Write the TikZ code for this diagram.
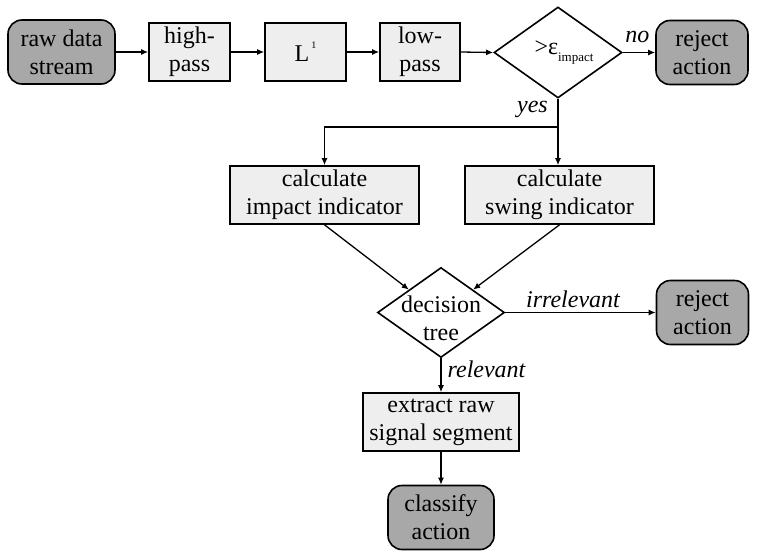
\documentclass[tikz,border=0pt]{standalone}
\usepackage{fontspec}
\newfontfamily\timesfont{Liberation Serif}
\usetikzlibrary{shapes.geometric,arrows.meta}
\definecolor{termgray}{HTML}{A8A8A8}
\definecolor{boxgray}{HTML}{EDEEED}
\begin{document}
\begin{tikzpicture}[x=1pt,y=-1pt,
 every node/.style={font=\timesfont\fontsize{24}{28}\selectfont},
 term/.style={draw, line width=1.6pt, fill=termgray, rounded corners=14pt, minimum height=64pt, align=center, inner sep=0pt},
 proc/.style={draw, line width=1.6pt, fill=boxgray, minimum height=58pt, align=center, inner sep=0pt},
 decide/.style={draw, line width=1.6pt, diamond, inner sep=0pt, fill=white},
 arr/.style={-{Latex[length=7pt,width=6pt]}, line width=1.3pt},
 plain/.style={line width=1.3pt},
 lab/.style={font=\timesfont\fontsize{24}{28}\selectfont\itshape, inner sep=0pt}
]
\useasboundingbox (0,0) rectangle (757,552);
\node[term, minimum width=107pt] (raw) at (61.5,52) {raw data\\stream};
\node[proc, minimum width=81pt] (hp) at (189.5,52) {high-\\pass};
\node[proc, minimum width=81pt] (l1) at (305.5,52) {L\kern2pt\raisebox{13pt}{\fontsize{10}{10}\selectfont 1}};
\node[proc, minimum width=80pt] (lp) at (420,52) {low-\\pass};
\node[decide, minimum width=128pt, minimum height=91pt] (d1) at (558,52.5) {};
\node[inner sep=0pt] (d1t) at (564,53) {\textgreater ε\raisebox{-7pt}{\fontsize{13}{13}\selectfont impact}};
\node[term, minimum width=92pt] (rj1) at (702,52.5) {reject\\action};
\node[proc, minimum width=189pt] (imp) at (324.5,195) {calculate\\impact indicator};
\node[proc, minimum width=189pt] (sw) at (559.5,195) {calculate\\swing indicator};
\node[decide, minimum width=127pt, minimum height=90pt] (d2) at (441,312.5) {};
\node[align=center, inner sep=0pt] (d2t) at (441,318) {decision\\tree};
\node[term, minimum width=92pt] (rj2) at (702.5,312.5) {reject\\action};
\node[proc, minimum width=156pt] (ext) at (441,422) {extract raw\\signal segment};
\node[term, minimum width=106pt] (cls) at (441,517.5) {classify\\action};

\draw[arr] (raw.east) -- (hp.west);
\draw[arr] (hp.east) -- (l1.west);
\draw[arr] (l1.east) -- (lp.west);
\draw[arr] (lp.east) -- (d1.west);
\draw[arr] (d1.east) -- node[lab, above=9pt, pos=0.45] {no} (rj1.west);
\coordinate (yj) at (d1.south |- 0,127);
\draw[plain] (d1.south) -- (yj);
\draw[arr] (yj) -| (imp.north);
\draw[arr] (yj) -- (d1.south |- sw.north);
\node[lab, anchor=east] (yes) at (548,109) {yes};
\draw[arr] (imp.south) -- (d2.north west);
\draw[arr] (sw.south) -- (d2.north east);
\draw[arr] (d2.east) -- node[lab, above=4pt, pos=0.45] {irrelevant} (rj2.west);
\draw[arr] (d2.south) -- node[lab, right=6pt, pos=0.33] {relevant} (ext.north);
\draw[arr] (ext.south) -- (cls.north);
\end{tikzpicture}
\end{document}
